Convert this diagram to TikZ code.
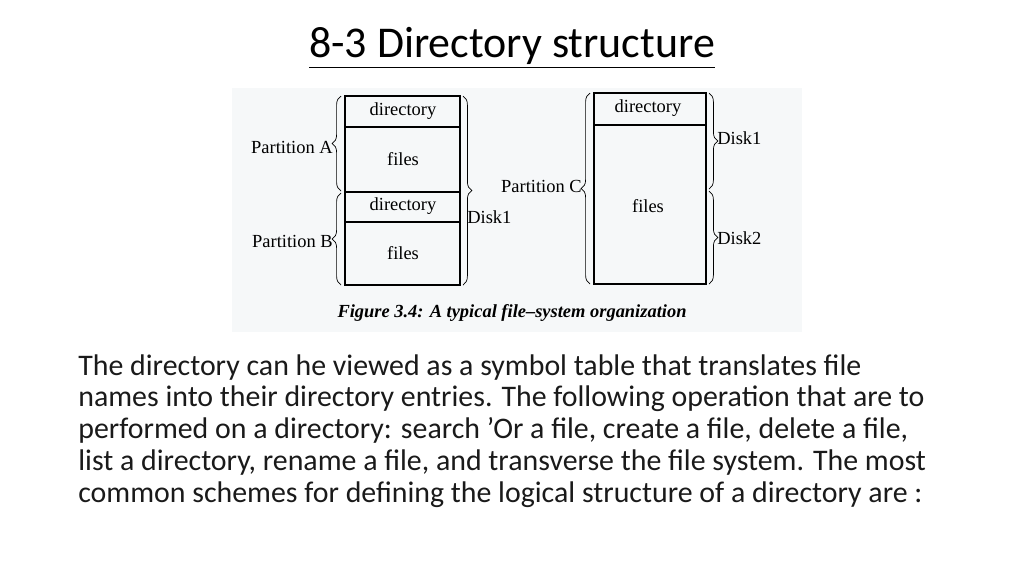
\documentclass[tikz,border=0pt]{standalone}
\usepackage{fontspec}
\setmainfont{Carlito}
\newfontfamily\figfont{Liberation Serif}
\usetikzlibrary{decorations.pathreplacing}
\definecolor{figback}{HTML}{F6F8F9}
\definecolor{bodytext}{HTML}{1A1A1A}
\tikzset{
  figlabel/.style={font=\figfont\fontsize{10.5}{12}\selectfont, inner sep=0pt},
  brace/.style={decorate, decoration={brace, amplitude=5pt}, thin},
  partbox/.style={draw, thick}
}
\begin{document}
\begin{tikzpicture}[x=0.02cm, y=-0.02cm]
		\useasboundingbox (0,0) rectangle (1024,576);
		\node[font=\fontsize{25}{30}\selectfont] (title) at (512,48) {\underline{8-3 Directory structure}};
		\fill[figback] (232,88) rectangle (802,332);
		%
		\draw[partbox] (345,96) rectangle (460,285);
		\draw[partbox] (345,127) -- (460,127);
		\draw[partbox] (345,192) -- (460,192);
		\draw[partbox] (345,222) -- (460,222);
		\node[figlabel] (dirA) at (403,111) {directory};
		\node[figlabel] (filesA) at (403,159) {files};
		\node[figlabel] (dirB) at (403,206) {directory};
		\node[figlabel] (filesB) at (403,253) {files};
		\draw[brace] (341,191) -- (341,96);
		\draw[brace] (341,285) -- (341,193);
		\draw[brace] (463,96) -- (463,285);
		\node[figlabel, anchor=east] (partA) at (333,147) {Partition A};
		\node[figlabel, anchor=east] (partB) at (333,241) {Partition B};
		\node[figlabel, anchor=west] (diskAB) at (467,217) {Disk1};
		%
		\draw[partbox] (594,93) rectangle (706,284);
		\draw[partbox] (594,125) -- (706,125);
		\node[figlabel] (dirC) at (648,108) {directory};
		\node[figlabel] (filesC) at (648,206) {files};
		\draw[brace] (590,284) -- (590,93);
		\draw[brace] (709,93) -- (709,189);
		\draw[brace] (709,191) -- (709,284);
		\node[figlabel, anchor=east] (partC) at (582,186) {Partition C};
		\node[figlabel, anchor=west] (diskC1) at (717,138) {Disk1};
		\node[figlabel, anchor=west] (diskC2) at (717,238) {Disk2};
		%
		\node[figlabel, font=\figfont\bfseries\itshape\fontsize{10.5}{12}\selectfont] (caption) at (512,313) {Figure 3.4: A typical file\textendash system organization};
		%
		\node[anchor=north west, align=left, text=bodytext, inner sep=0pt,
		  font=\fontsize{17}{18.1}\selectfont] (body) at (78,354)
		  {The directory can he viewed as a symbol table that translates file\\
		   names into their directory entries. The following operation that are to\\
		   performed on a directory: search 'Or a file, create a file, delete a file,\\
		   list a directory, rename a file, and transverse the file system. The most\\
		   common schemes for defining the logical structure of a directory are :};
	\end{tikzpicture}
\end{document}
